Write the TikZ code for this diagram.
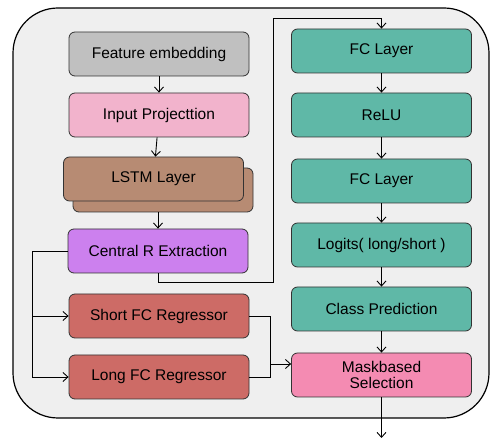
\documentclass[tikz,border=0pt]{standalone}
\usepackage{fontspec}
\setmainfont{Liberation Sans}
\usetikzlibrary{arrows.meta}
\definecolor{bgc}{HTML}{EFEFEF}
\definecolor{greyc}{HTML}{C0C0C0}
\definecolor{pinkc}{HTML}{F2B3CC}
\definecolor{brownc}{HTML}{B78B73}
\definecolor{purplec}{HTML}{CC80EE}
\definecolor{redc}{HTML}{CD6B66}
\definecolor{tealc}{HTML}{5FB8A7}
\definecolor{maskc}{HTML}{F48BB2}
\definecolor{edgec}{HTML}{333333}
\tikzset{
  blk/.style={draw=edgec, line width=0.8pt, rounded corners=6pt, minimum width=180pt, minimum height=44pt, inner sep=0pt, align=center, font=\fontsize{15.5}{17}\selectfont, text=black},
  conn/.style={draw=black, line width=0.9pt},
  arr/.style={conn, -{Straight Barb[length=5pt,width=9pt]}},
}
\begin{document}
\begin{tikzpicture}[x=1pt,y=-1pt]
\useasboundingbox (0,0) rectangle (491,438);
\draw[fill=bgc, draw=black, line width=1.2pt, rounded corners=45pt] (13,8) rectangle (489,418);
% left column
\node[blk, fill=greyc] (fe) at (159,54) {Feature embedding};
\node[blk, fill=pinkc] (ip) at (159,115) {Input Projecttion};
\node[blk, fill=brownc] (lstmb) at (163,190) {};
\node[blk, fill=brownc] (lstm) at (153.5,179) {LSTM Layer};
\node[blk, fill=purplec] (cr) at (158,251) {Central R Extraction};
\node[blk, fill=redc] (sfc) at (159,316) {Short FC Regressor};
\node[blk, fill=redc] (lfc) at (159,377) {Long FC Regressor};
% right column
\node[blk, fill=tealc] (fc1) at (381.5,51) {FC Layer};
\node[blk, fill=tealc] (relu) at (381.5,115) {ReLU};
\node[blk, fill=tealc] (fc2) at (381.5,181) {FC Layer};
\node[blk, fill=tealc] (lg) at (381.5,245) {Logits( long/short )};
\node[blk, fill=tealc] (cp) at (381.5,309) {Class Prediction};
\node[blk, fill=maskc] (ms) at (381.5,375) {Maskbased\\[-1pt]Selection};
\coordinate (out) at (381.5,438);
% connectors
\draw[arr] (fe) -- (ip);
\draw[arr] (ip) -- (lstm);
\draw[arr] (lstmb.south -| cr.north) -- (cr);
\draw[arr] (cr.south) |- (273,282) |- (381.5,18) -- (fc1.north);
\draw[arr] (fc1) -- (relu);
\draw[arr] (relu) -- (fc2);
\draw[arr] (fc2) -- (lg);
\draw[arr] (lg) -- (cp);
\draw[arr] (cp) -- (ms);
\draw[arr] (ms) -- (out);
\draw[conn] (cr.west) -| (32,377);
\draw[arr] (32,316) -- (sfc.west);
\draw[arr] (32,377) -- (lfc.west);
\draw[conn] (sfc.east) -| (270,377) -- (lfc.east);
\draw[arr] (270,364) -- (ms.west |- 0,364);
\end{tikzpicture}
\end{document}
